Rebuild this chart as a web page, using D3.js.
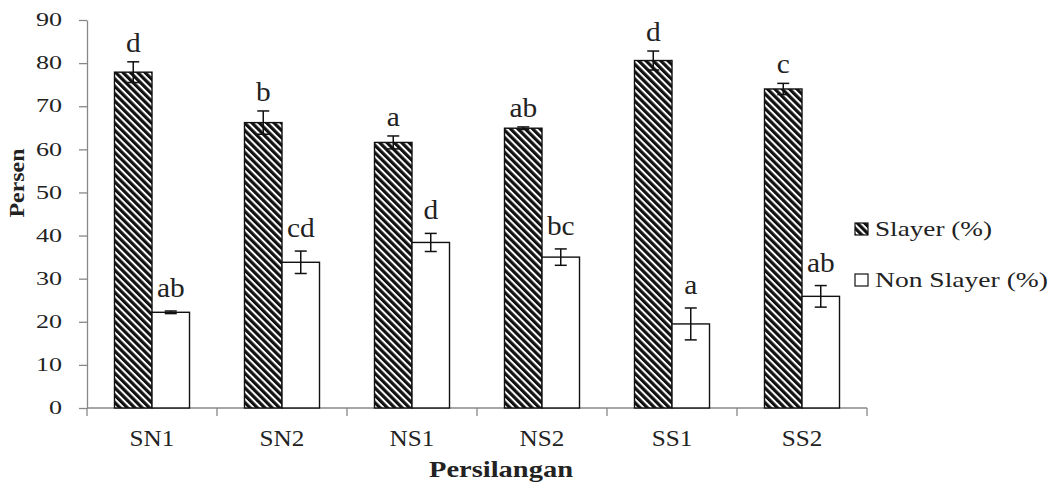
<!DOCTYPE html>
<html><head><meta charset="utf-8">
<script src="https://cdn.jsdelivr.net/npm/d3@7"></script>
<style>
body{margin:0;background:#fff;}
text{font-family:"Liberation Serif","Times New Roman",serif;fill:#222;}
</style></head>
<body><svg id="c" width="1051" height="485"></svg>
<script>
const categories = ["SN1","SN2","NS1","NS2","SS1","SS2"];
const seriesNames = ["Slayer (%)","Non Slayer (%)"];
const slayer = [77.9, 66.2, 61.6, 64.9, 80.6, 74.0];
const slayerErr = [2.4, 2.7, 1.5, 0.3, 2.2, 1.3];
const nonSlayer = [22.2, 33.8, 38.4, 35.0, 19.5, 25.9];
const nonSlayerErr = [0.3, 2.6, 2.1, 1.9, 3.7, 2.5];
const slayerLetters = ["d","b","a","ab","d","c"];
const nonSlayerLetters = ["ab","cd","d","bc","a","ab"];
const yTicks = [0,10,20,30,40,50,60,70,80,90];

const svg = d3.select("#c");
const mLeft = 87, mRight = 867, mTop = 20, mBottom = 408;
const SX = 1.45;

const defs = svg.append("defs");
const pat = defs.append("pattern").attr("id","hatch").attr("patternUnits","userSpaceOnUse")
  .attr("width",5.2).attr("height",5.2).attr("patternTransform","rotate(-45)");
pat.append("rect").attr("width",5.2).attr("height",5.2).attr("fill","#fff");
pat.append("rect").attr("width",3.2).attr("height",5.2).attr("fill","#111");

const x0 = d3.scaleBand().domain(categories).range([mLeft,mRight]).paddingInner(0.423).paddingOuter(0.2115);
const x1 = d3.scaleBand().domain(seriesNames).range([0,x0.bandwidth()]);
const y = d3.scaleLinear().domain([0,90]).range([mBottom,mTop]);

const rows = categories.map((c,i)=>({c, vals:[
  {s:seriesNames[0], v:slayer[i], e:slayerErr[i], l:slayerLetters[i]},
  {s:seriesNames[1], v:nonSlayer[i], e:nonSlayerErr[i], l:nonSlayerLetters[i]}]}));

// axes
const yAxis = svg.append("g").attr("transform",`translate(${mLeft},0)`)
  .call(d3.axisLeft(y).tickValues(yTicks).tickSize(8).tickSizeOuter(0));
yAxis.select(".domain").attr("stroke","#888").attr("stroke-width",1.3);
yAxis.selectAll(".tick line").attr("stroke","#888").attr("stroke-width",1.3);
yAxis.selectAll(".tick text").attr("font-size",18).attr("font-family","Liberation Serif")
  .attr("fill","#222").attr("x",-25/SX).attr("transform",`scale(${SX},1)`);

const xAxisG = svg.append("g").attr("transform",`translate(0,${mBottom})`);
xAxisG.append("line").attr("x1",mLeft).attr("x2",mRight).attr("stroke","#888").attr("stroke-width",1.3);
const bounds = d3.range(categories.length+1).map(i=> i<categories.length ? x0(categories[i]) - x0.step()*x0.paddingInner()/2 : mRight);
xAxisG.selectAll("line.tk").data(bounds).join("line").attr("class","tk")
  .attr("x1",d=>d).attr("x2",d=>d).attr("y1",0).attr("y2",8).attr("stroke","#888").attr("stroke-width",1.3);
xAxisG.selectAll("text.cat").data(categories).join("text").attr("class","cat")
  .attr("transform",d=>`translate(${x0(d)+x0.bandwidth()/2},38) scale(1.05,1)`)
  .attr("text-anchor","middle").attr("font-size",24).text(d=>d);

// bars
const g = svg.selectAll("g.grp").data(rows).join("g").attr("class","grp")
  .attr("transform",d=>`translate(${x0(d.c)},0)`);
g.selectAll("rect").data(d=>d.vals).join("rect")
  .attr("x",d=>x1(d.s)).attr("width",x1.bandwidth())
  .attr("y",d=>y(d.v)).attr("height",d=>y(0)-y(d.v))
  .attr("fill",(d,i)=> i===0 ? "url(#hatch)" : "#fff")
  .attr("stroke","#111").attr("stroke-width",1.4);
// error bars
const eb = g.selectAll("g.eb").data(d=>d.vals).join("g").attr("class","eb")
  .attr("transform",d=>`translate(${x1(d.s)+x1.bandwidth()/2},0)`);
eb.append("line").attr("y1",d=>y(d.v-d.e)).attr("y2",d=>y(d.v+d.e)).attr("stroke","#111").attr("stroke-width",1.5);
eb.append("line").attr("x1",-6).attr("x2",6).attr("y1",d=>y(d.v+d.e)).attr("y2",d=>y(d.v+d.e)).attr("stroke","#111").attr("stroke-width",1.5);
eb.append("line").attr("x1",-6).attr("x2",6).attr("y1",d=>y(d.v-d.e)).attr("y2",d=>y(d.v-d.e)).attr("stroke","#111").attr("stroke-width",1.5);
eb.append("text").attr("text-anchor","middle").attr("font-size",28)
  .attr("transform",(d,i)=>`translate(0,${y(d.v+d.e)-(i===0?10:14)}) scale(1.05,1)`)
  .text(d=>d.l);

// axis titles
svg.append("text").attr("text-anchor","middle").attr("font-weight","bold").attr("font-size",24)
  .attr("x",501).attr("y",477).attr("textLength",144).attr("lengthAdjust","spacingAndGlyphs")
  .attr("fill","#111").text("Persilangan");
svg.append("text").attr("text-anchor","middle").attr("font-weight","bold").attr("font-size",22)
  .attr("transform",`translate(24,183) rotate(-90)`).attr("textLength",69).attr("lengthAdjust","spacingAndGlyphs")
  .attr("fill","#111").text("Persen");

// legend
const legendW = [117,173];
const lg = svg.append("g").selectAll("g").data(seriesNames).join("g")
  .attr("transform",(d,i)=>`translate(855,${223+i*51})`);
lg.append("rect").attr("width",13).attr("height",12)
  .attr("fill",(d,i)=> i===0?"url(#hatch)":"#fff").attr("stroke","#111").attr("stroke-width",1.2);
lg.append("text").attr("x",20).attr("y",13).attr("font-size",22)
  .attr("textLength",(d,i)=>legendW[i]).attr("lengthAdjust","spacingAndGlyphs").text(d=>d);
</script></body></html>
